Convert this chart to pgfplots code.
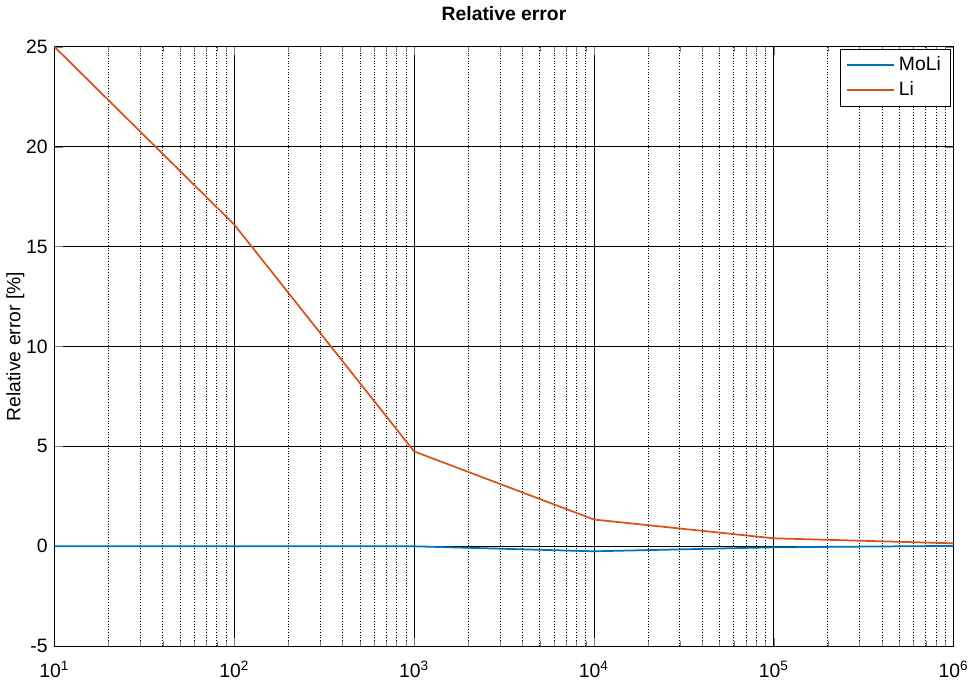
\documentclass[border=0pt]{standalone}
\usepackage{pgfplots}
\pgfplotsset{compat=1.18}
\usepackage{fontspec}
\setmainfont{Liberation Sans}
\definecolor{mblue}{rgb}{0,0.447,0.741}
\definecolor{morange}{rgb}{0.85,0.325,0.098}
\begin{document}
\begin{tikzpicture}
\begin{axis}[
    xmode=log,
    scale only axis,
    width=465pt, height=310pt,
    xmin=10, xmax=1e6,
    ymin=-5, ymax=25,
    ytick={-5,0,...,25},
    xtick={10,100,1000,10000,100000,1000000},
    xticklabels={10\textsuperscript{1},10\textsuperscript{2},10\textsuperscript{3},10\textsuperscript{4},10\textsuperscript{5},10\textsuperscript{6}},
    /pgf/number format/assume math mode=true,
    tick label style={font=\fontsize{10}{11}\selectfont},
    xticklabel style={yshift=-4pt},
    yticklabel style={xshift=0pt},
    tick align=inside,
    grid=both,
    major grid style={black, thin},
    minor grid style={black, densely dotted, thin},
    minor y tick num=0,
    axis line style={black},
    title={\textbf{Relative error}},
    title style={font=\fontsize{10}{11}\selectfont, yshift=4pt},
    ylabel={Relative error [\%]},
    ylabel style={font=\fontsize{10}{11}\selectfont, yshift=-6pt},
    legend style={at={(0.997,0.997)}, anchor=north east, font=\fontsize{10}{11}\selectfont, draw=black, cells={anchor=west}},
    legend cell align=left,
    legend image code/.code={\draw[#1] (0cm,0cm) -- (0.85cm,0cm);},
]
\addplot[color=mblue, line width=0.9pt] coordinates {
  (10,0) (100,0) (1000,0) (10000,-0.25) (100000,-0.05) (1000000,0.02)
};
\addlegendentry{MoLi}
\addplot[color=morange, line width=0.9pt] coordinates {
  (10,25) (100,16.1) (1000,4.75) (10000,1.34) (100000,0.4) (1000000,0.15)
};
\addlegendentry{Li}
\end{axis}
\end{tikzpicture}
\end{document}
